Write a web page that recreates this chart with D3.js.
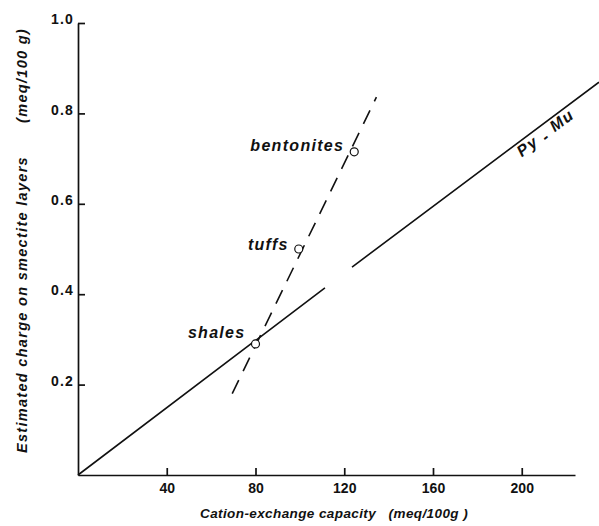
<!DOCTYPE html>
<html>
<head>
<meta charset="utf-8">
<script src="https://cdn.jsdelivr.net/npm/d3@7"></script>
<style>
  body { margin: 0; background: #fff; }
  text { font-family: "Liberation Sans", Arial, sans-serif; font-weight: bold; fill: #111; }
</style>
</head>
<body>
<div id="chart-area"></div>
<script>
// values
var xTicks = [40, 80, 120, 160, 200]
var yTicks = [0.2, 0.4, 0.6, 0.8, 1.0]

var samples = ["shales", "tuffs", "bentonites"]
var sampleCec = [80, 99.5, 124.5]
var sampleCharge = [0.29, 0.50, 0.715]

// dashed fit through the samples
var trendCec = [69.5, 134.5]
var trendCharge = [0.18, 0.836]

// Py-Mu line, broken where it passes the labels
var pyMuCec = [0, 111.3, null, 123.5, 234.8]
var pyMuCharge = [0, 0.414, null, 0.46, 0.869]

var width = 599
var height = 526

var svg = d3.select("#chart-area")
  .append("svg")
  .attr("width", width)
  .attr("height", height)

var x = d3.scaleLinear()
  .domain([0, 224])
  .range([78, 575])

var y = d3.scaleLinear()
  .domain([0, 1.0])
  .range([475, 23])

// x axis, ticks pointing up
var xAxisCall = d3.axisBottom(x)
  .tickValues(xTicks)
  .tickSizeInner(-7)
  .tickSizeOuter(0)
  .tickPadding(8)

var xAxis = svg.append("g")
  .attr("class", "x axis")
  .attr("transform", "translate(0," + y(0) + ")")
  .call(xAxisCall)

// y axis, ticks pointing right
var yAxisCall = d3.axisLeft(y)
  .tickValues(yTicks)
  .tickFormat(d3.format(".1f"))
  .tickSizeInner(-7)
  .tickSizeOuter(0)
  .tickPadding(4)

var yAxis = svg.append("g")
  .attr("class", "y axis")
  .attr("transform", "translate(" + x(0) + ",0)")
  .call(yAxisCall)

svg.selectAll(".axis path, .axis line")
  .attr("stroke", "#111")
  .attr("stroke-width", 1.7)

xAxis.selectAll("text")
  .attr("font-size", "14px")
  .attr("font-family", null)

yAxis.selectAll("text")
  .attr("font-size", "14px")
  .attr("font-family", null)
  .attr("letter-spacing", "1.2px")
  .attr("dy", "0.05em")

// Py-Mu line
var pyMu = pyMuCec.map(function(d, i) {
  return { cec: d, charge: pyMuCharge[i] }
})

var line = d3.line()
  .defined(function(d) { return d.cec !== null })
  .x(function(d) { return x(d.cec) })
  .y(function(d) { return y(d.charge) })

svg.append("path")
  .datum(pyMu)
  .attr("d", line)
  .attr("fill", "none")
  .attr("stroke", "#111")
  .attr("stroke-width", 1.6)

// dashed trend
var trend = trendCec.map(function(d, i) {
  return { cec: d, charge: trendCharge[i] }
})

svg.append("path")
  .datum(trend)
  .attr("d", line)
  .attr("fill", "none")
  .attr("stroke", "#111")
  .attr("stroke-width", 1.6)
  .attr("stroke-dasharray", "15,10")

// sample points
var points = samples.map(function(d, i) {
  return { name: d, cec: sampleCec[i], charge: sampleCharge[i] }
})

svg.selectAll("circle")
  .data(points)
  .enter()
  .append("circle")
  .attr("cx", function(d) { return x(d.cec) })
  .attr("cy", function(d) { return y(d.charge) })
  .attr("r", 4)
  .attr("fill", "#fff")
  .attr("stroke", "#111")
  .attr("stroke-width", 1.2)

var labelDy = { shales: -6, tuffs: 1, bentonites: -1 }

svg.selectAll(".sample-label")
  .data(points)
  .enter()
  .append("text")
  .attr("class", "sample-label")
  .text(function(d) { return d.name })
  .attr("x", function(d) { return x(d.cec) - 10 })
  .attr("y", function(d) { return y(d.charge) + labelDy[d.name] })
  .attr("text-anchor", "end")
  .attr("font-size", "16px")
  .attr("font-style", "italic")
  .attr("letter-spacing", "1.3px")

// Py-Mu label, rotated along the line
var angle = Math.atan2(y(pyMuCharge[4]) - y(0), x(pyMuCec[4]) - x(0)) * 180 / Math.PI
var lx = x(200)
var ly = y(pyMuCharge[4] * 200 / pyMuCec[4]) + 17

var pyLabel = svg.append("text")
  .attr("transform", "translate(" + lx + "," + ly + ") rotate(" + angle + ")")
  .attr("font-size", "16px")
  .attr("font-style", "italic")
  .attr("letter-spacing", "1.5px")
pyLabel.append("tspan").text("Py ")
pyLabel.append("tspan").text("-").attr("dy", 3)
pyLabel.append("tspan").text(" Mu").attr("dy", -3)

// x label
svg.append("text")
  .text("Cation-exchange capacity\u00a0\u00a0\u00a0(meq/100g )")
  .attr("x", 200)
  .attr("y", 518)
  .attr("font-size", "13.5px")
  .attr("font-style", "italic")
  .attr("letter-spacing", "0.4px")

// y label
svg.append("text")
  .text("Estimated charge on smectite layers")
  .attr("transform", "translate(27,453) rotate(-90)")
  .attr("font-size", "14.5px")
  .attr("font-style", "italic")
  .attr("letter-spacing", "1.3px")

svg.append("text")
  .text("(meq/100 g)")
  .attr("transform", "translate(27,28) rotate(-90)")
  .attr("text-anchor", "end")
  .attr("font-size", "14.5px")
  .attr("font-style", "italic")
  .attr("letter-spacing", "1.3px")
</script>
</body>
</html>
